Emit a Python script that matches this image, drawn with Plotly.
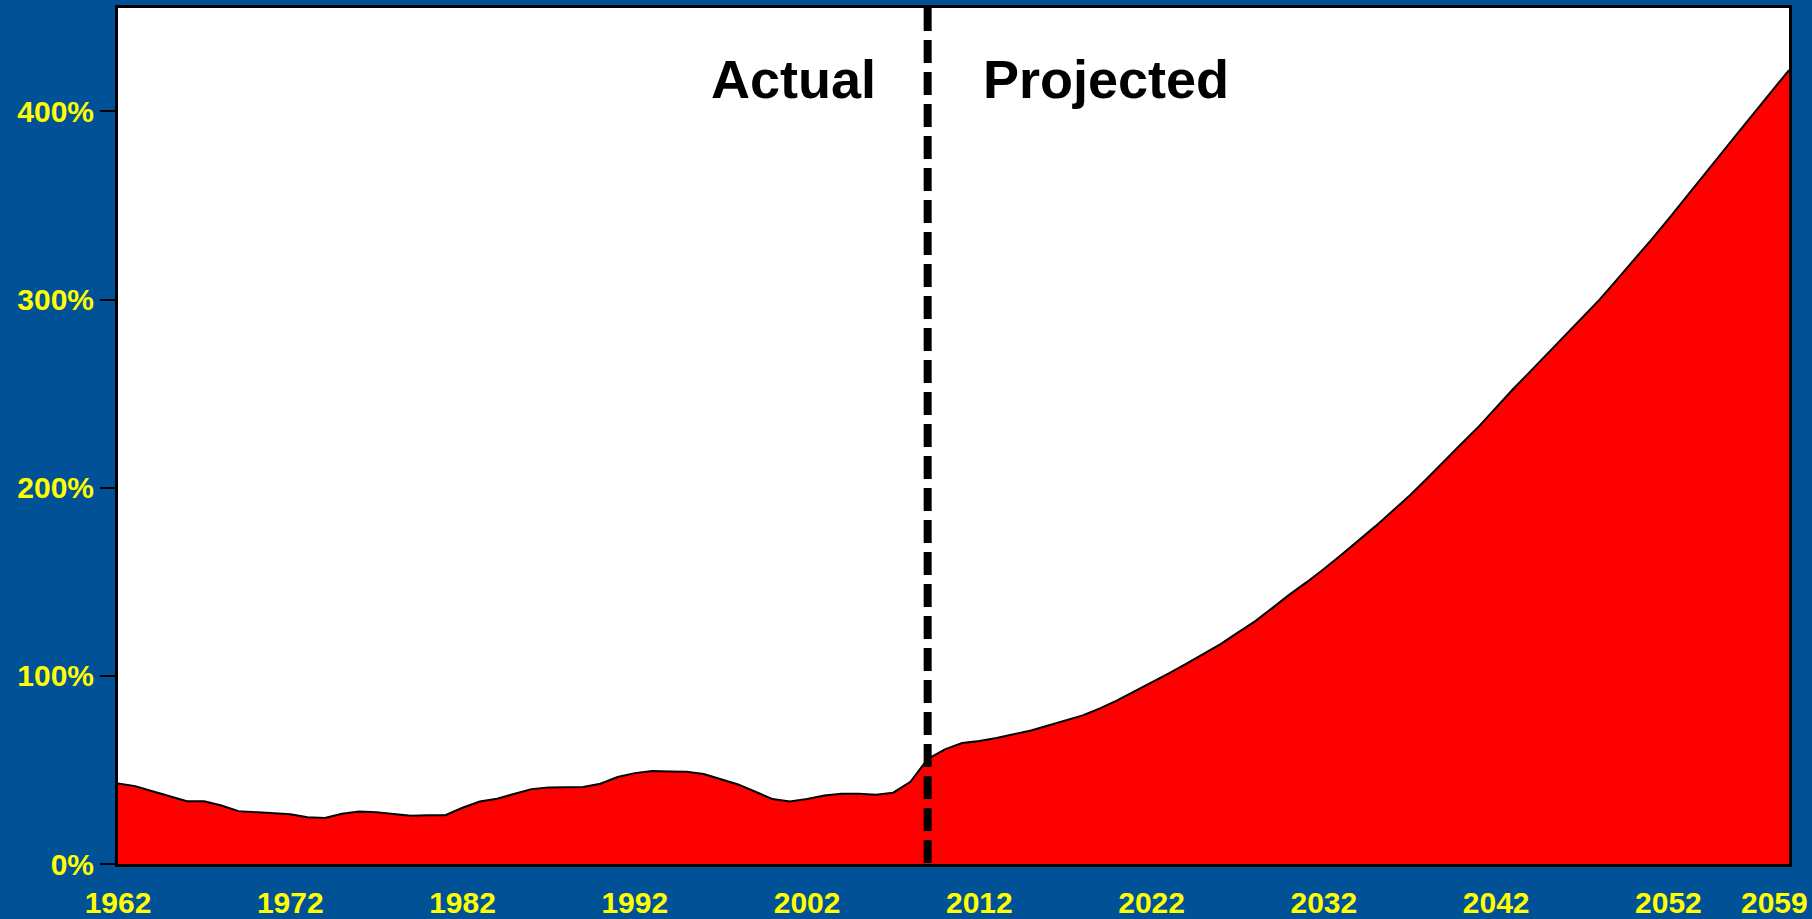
import plotly.graph_objects as go

years = list(range(1962, 2060))
debt_pct = [
    42.8, 41.4, 38.7, 36.0, 33.4, 33.4, 31.1, 28.1, 27.7, 27.2,   # 1962-1971
    26.5, 24.9, 24.5, 26.7, 27.9, 27.5, 26.5, 25.6, 25.9, 25.9,   # 1972-1981
    29.9, 33.2, 34.7, 37.3, 39.8, 40.7, 40.8, 40.9, 42.7, 46.2,   # 1982-1991
    48.3, 49.4, 49.2, 49.0, 47.8, 44.9, 42.3, 38.4, 34.5, 33.2,   # 1992-2001
    34.5, 36.4, 37.3, 37.3, 36.8, 37.9, 43.7, 55.8, 60.9, 64.3,   # 2002-2011
    65.4, 67.0, 68.8, 71.0, 73.6, 76.3, 79.0, 82.7, 87.0, 91.8,   # 2012-2021
    96.4, 101.3, 106.4, 111.6, 116.9, 123.0, 129.0, 136.0, 143.2, 149.8,  # 2022-2031
    156.8, 164.3, 171.9, 179.6, 187.8, 196.0, 205.0, 214.4, 223.5, 232.6,  # 2032-2041
    242.6, 252.6, 262.0, 271.5, 281.0, 290.5, 300.0, 310.5, 321.0, 331.8,  # 2042-2051
    342.8, 354.0, 365.3, 376.8, 388.2, 399.5, 410.8, 422.0,               # 2052-2059
]

x_tick_years = [1962, 1972, 1982, 1992, 2002, 2012, 2022, 2032, 2042, 2052]
x_tick_labels = [str(y) for y in x_tick_years]
last_year_label = "2059"
y_tick_vals = [0, 100, 200, 300, 400]
y_tick_labels = ["0%", "100%", "200%", "300%", "400%"]
divider_year = 2009
region_labels = ["Actual", "Projected"]

BG = "#005196"
YELLOW = "#FFFF00"
FONT = "Arial, Liberation Sans, sans-serif"

fig = go.Figure()
fig.add_trace(go.Scatter(
    x=years, y=debt_pct, mode="lines",
    line=dict(color="black", width=2),
    fill="tozeroy", fillcolor="#FF0000",
    hoverinfo="skip", showlegend=False,
))

fig.add_shape(type="line", xref="x", yref="paper",
              x0=divider_year, x1=divider_year, y0=1, y1=0,
              line=dict(color="black", width=8, dash="23px,9px"),
              layer="above")

fig.add_annotation(x=divider_year, y=417, xref="x", yref="y",
                   text=region_labels[0], showarrow=False,
                   xanchor="right", yanchor="middle", xshift=-50,
                   font=dict(family=FONT, size=54, color="black", weight="bold"))
fig.add_annotation(x=divider_year, y=417, xref="x", yref="y",
                   text=region_labels[1], showarrow=False,
                   xanchor="left", yanchor="middle", xshift=53,
                   font=dict(family=FONT, size=54, color="black", weight="bold"))
fig.add_annotation(x=years[-1], y=0, xref="x", yref="paper",
                   text=last_year_label, showarrow=False,
                   xanchor="right", yanchor="top", yshift=-20, xshift=21,
                   font=dict(family=FONT, size=30, color=YELLOW, weight="bold"))

fig.update_layout(
    width=1812, height=919,
    margin=dict(l=118, r=23, t=8, b=55, autoexpand=False),
    paper_bgcolor=BG, plot_bgcolor="white",
    showlegend=False,
)
fig.update_xaxes(
    range=[years[0], years[-1]],
    tickvals=x_tick_years, ticktext=x_tick_labels,
    ticks="outside", ticklen=0, ticklabelstandoff=10,
    tickfont=dict(family=FONT, size=30, color=YELLOW, weight="bold"),
    showgrid=False, zeroline=False, automargin=False,
    showline=True, linecolor="black", linewidth=3, mirror=True,
)
fig.update_yaxes(
    range=[0, 455],
    tickvals=y_tick_vals, ticktext=y_tick_labels,
    ticks="outside", ticklen=15, tickwidth=1.5, tickcolor="black",
    tickfont=dict(family=FONT, size=30, color=YELLOW, weight="bold"),
    showgrid=False, zeroline=False, automargin=False,
    showline=True, linecolor="black", linewidth=3, mirror=True,
)

fig.write_html("out.html", config={"displayModeBar": False},
               post_script="document.body.style.margin='0';document.body.style.background='%s';" % BG)
